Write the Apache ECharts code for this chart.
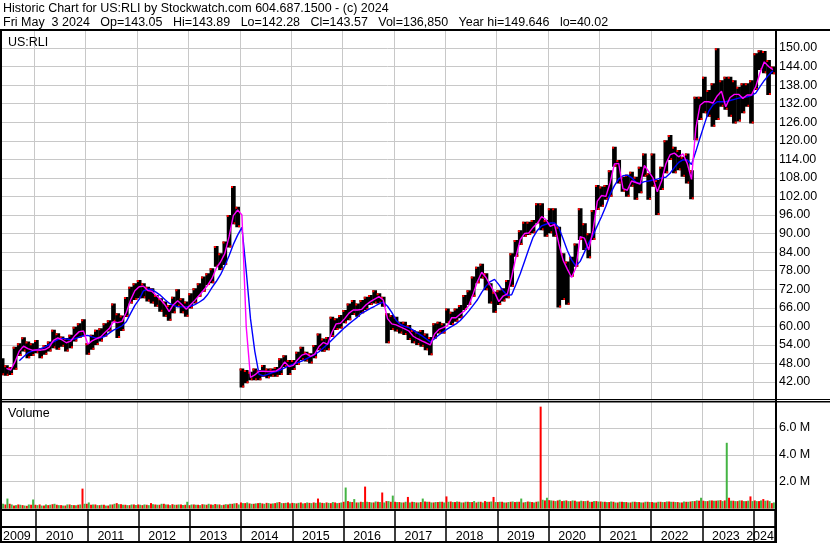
<!DOCTYPE html>
<html>
<head>
<meta charset="utf-8">
<script src="https://cdn.jsdelivr.net/npm/echarts@6/dist/echarts.min.js"></script>
<style>
  html, body { margin: 0; padding: 0; background: #fff; }
  #chart { width: 830px; height: 543px; }
</style>
</head>
<body>
<div id="chart"></div>
<script>
// monthly slots, May 2009 .. May 2024
const months = []
for (let y = 2009; y <= 2024; y++) {
  for (let m = 1; m <= 12; m++) {
    if ((y === 2009 && m < 5) || (y === 2024 && m > 5)) continue
    months.push(y + '-' + String(m).padStart(2, '0'))
  }
}

const yearLabelMonths = ['2009-08', '2010-06', '2011-06', '2012-06', '2013-06', '2014-06', '2015-06', '2016-06',
  '2017-06', '2018-06', '2019-06', '2020-06', '2021-06', '2022-06', '2023-06', '2024-02']

// monthly low / high
const priceLow = [
  44.2, 44.0, 44.3, 46.0, 50.4, 51.9, 49.7, 50.4,
  51.3, 49.7, 50.8, 51.9, 52.9, 52.4, 53.4, 51.9, 52.9, 55.1, 56.2, 56.7,
  50.8, 52.4, 54.0, 55.1, 56.7, 58.3, 61.5, 56.2, 58.5, 63.0, 67.4, 68.5,
  69.1, 69.1, 68.0, 67.4, 66.3, 64.7, 63.1, 61.8, 64.2, 66.3, 64.2, 63.1,
  65.8, 67.4, 69.6, 71.2, 73.4, 73.9, 79.3, 78.2, 79.8, 85.5, 93.0, 92.0,
  40.2, 41.6, 42.6, 42.6, 42.6, 43.7, 43.2, 43.7, 43.7, 44.3, 46.9, 44.3,
  45.9, 47.5, 49.1, 48.6, 48.0, 49.7, 52.3, 51.8, 52.3, 56.6, 58.8, 59.3,
  61.0, 62.0, 63.7, 63.1, 64.2, 65.3, 66.9, 67.4, 67.4, 66.3, 54.5, 58.8,
  58.3, 57.7, 57.2, 55.6, 54.5, 54.0, 53.4, 52.3, 50.7, 56.1, 57.7, 57.7,
  61.0, 60.4, 61.5, 62.6, 65.3, 66.9, 69.6, 73.9, 75.5, 71.7, 67.4, 64.4,
  66.9, 68.0, 69.1, 72.8, 82.5, 86.3, 89.0, 89.5, 90.1, 93.3, 91.1, 89.0,
  90.1, 89.0, 66.1, 68.5, 67.0, 76.1, 79.3, 87.9, 84.7, 82.0, 87.9, 97.6,
  98.7, 100.9, 101.9, 111.6, 106.2, 103.5, 101.9, 105.1, 100.9, 103.0, 108.4, 100.9,
  105.1, 96.0, 104.1, 109.5, 113.8, 109.5, 110.5, 108.4, 106.2, 101.1, 120.2, 126.7,
  128.9, 127.8, 124.5, 126.7, 131.0, 130.0, 127.8, 125.6, 126.2, 128.9, 131.0, 125.6,
  136.4, 142.9, 141.8, 134.8, 141.5
]
const priceHigh = [
  49.7, 47.4, 46.9, 53.4, 54.5, 56.5, 55.1, 54.5,
  55.6, 52.9, 54.0, 55.1, 58.9, 57.8, 56.7, 56.2, 57.3, 59.9, 61.0, 62.3,
  54.5, 57.3, 58.9, 59.4, 61.0, 62.0, 67.4, 64.2, 63.5, 69.5, 72.8, 73.9,
  75.0, 73.9, 72.8, 72.3, 70.1, 69.1, 68.0, 66.9, 69.6, 72.0, 69.1, 68.0,
  70.7, 72.3, 73.9, 76.1, 77.2, 78.8, 86.0, 83.6, 87.4, 96.0, 105.4, 98.7,
  46.4, 45.9, 45.3, 46.4, 45.9, 47.5, 46.4, 46.4, 46.9, 49.7, 50.7, 49.1,
  49.1, 51.8, 53.4, 51.8, 51.3, 54.0, 57.7, 56.1, 56.6, 63.1, 62.6, 63.7,
  65.3, 67.4, 68.5, 67.4, 68.5, 69.6, 70.1, 71.7, 70.7, 69.6, 64.2, 63.7,
  63.1, 61.5, 61.5, 60.4, 58.8, 58.3, 58.8, 57.7, 56.6, 61.0, 61.5, 61.0,
  65.8, 64.7, 65.8, 66.9, 70.1, 71.7, 76.1, 79.3, 80.2, 77.2, 73.9, 71.2,
  71.7, 72.3, 75.0, 83.6, 87.9, 91.1, 93.8, 93.8, 94.4, 99.8, 99.8, 94.4,
  98.2, 98.2, 92.2, 83.6, 81.0, 82.5, 86.8, 98.2, 93.3, 90.1, 97.6, 105.7,
  105.2, 105.7, 110.5, 118.1, 113.8, 108.4, 109.0, 110.0, 108.4, 111.6, 115.9, 109.5,
  115.9, 107.3, 111.6, 120.2, 121.9, 118.1, 117.0, 114.8, 115.9, 110.5, 134.2, 134.2,
  140.7, 136.4, 138.6, 149.9, 139.6, 140.7, 140.7, 139.6, 137.5, 138.6, 138.6, 139.6,
  148.3, 149.3, 149.0, 146.1, 144.0
]

// short average (magenta) and long average (blue)
const maShort = [
  null, 46.4, 45.9, 48.5, 52.0, 53.6, 52.8, 52.3,
  52.4, 52.3, 52.5, 53.3, 55.5, 56.3, 55.6, 54.7, 55.2, 57.0, 58.3, 58.5,
  54.2, 55.3, 56.0, 56.6, 58.0, 59.3, 61.5, 61.2, 61.6, 64.5, 68.5, 71.5,
  72.8, 73.0, 71.6, 71.3, 70.0, 68.7, 67.0, 64.8, 67.0, 68.3, 67.0, 65.5,
  67.0, 68.4, 70.0, 71.6, 73.3, 75.5, 78.8, 80.8, 83.5, 89.0, 95.8, 97.6,
  96.0, 60.0, 43.5, 44.3, 45.5, 45.5, 45.4, 45.4, 45.6, 46.5, 48.5, 47.0,
  47.4, 49.2, 50.7, 51.2, 50.3, 51.0, 53.5, 54.8, 54.2, 58.0, 60.8, 61.0,
  62.5, 64.3, 65.3, 65.3, 65.5, 67.0, 68.0, 68.8, 69.6, 68.5, 62.5, 60.8,
  60.5, 59.8, 59.2, 58.5, 56.8, 56.0, 55.3, 54.7, 54.0, 57.5, 59.0, 59.6,
  60.2, 62.8, 62.8, 64.0, 65.0, 66.8, 70.5, 74.5, 77.5, 75.8, 73.3, 71.0,
  68.0, 69.8, 70.5, 76.0, 82.5, 88.0, 90.0, 90.2, 92.0, 93.3, 95.5, 94.5,
  92.3, 93.0, 86.8, 81.4, 78.5, 75.8, 79.0, 89.0, 88.5, 84.7, 91.0, 100.5,
  102.3, 102.0, 106.5, 112.5, 112.7, 104.5, 104.0, 107.0, 106.5, 106.0, 112.0, 110.0,
  108.0, 103.5, 107.0, 112.5, 115.5, 116.0, 114.8, 115.8, 112.7, 107.5, 124.0, 131.5,
  132.6, 132.6, 132.2, 134.5, 136.0, 131.0, 134.0, 135.0, 135.0, 133.7, 134.8, 134.8,
  137.5, 142.0, 145.5, 144.0, 143.0
]
const maLong = [
  null, null, null, null, 48.9, 50.2, 51.4, 52.0,
  52.4, 52.8, 53.3, 54.2, 55.0, 55.7, 56.1, 55.9, 55.7, 56.0, 56.5, 57.0,
  57.1, 56.6, 56.2, 56.3, 56.8, 57.8, 58.8, 59.4, 60.2, 61.5, 64.2, 66.8,
  68.7, 71.5, 72.0, 71.9, 71.0, 70.0, 68.7, 67.5, 66.8, 66.3, 66.3, 66.3,
  66.5, 67.0, 67.8, 68.7, 70.3, 72.5, 74.5, 76.7, 79.6, 82.8, 86.5, 89.5,
  92.0, 78.0, 62.5, 52.0, 44.5, 44.0, 44.5, 45.0, 45.4, 45.9, 46.6, 47.3,
  47.8, 48.3, 48.8, 49.5, 50.2, 50.9, 51.8, 53.0, 54.2, 55.6, 57.0, 58.3,
  59.6, 60.8, 61.9, 63.0, 64.3, 65.0, 65.8, 66.5, 67.3, 67.8, 66.5, 64.5,
  62.0, 60.6, 60.0, 59.6, 58.8, 57.8, 57.0, 56.0, 55.0, 56.0, 57.2, 58.2,
  59.2, 60.0, 60.8, 61.9, 63.4, 65.0, 66.8, 68.6, 71.0, 73.0, 74.5, 75.2,
  73.5, 71.5, 70.0, 70.2, 73.5, 77.0, 81.0, 85.0, 88.8, 91.0, 92.5, 93.0,
  93.4, 93.4, 92.0, 88.3, 84.5, 81.5, 79.5, 81.0, 84.0, 87.0, 89.5, 92.5,
  95.5, 98.8, 102.7, 105.5, 107.7, 108.7, 108.9, 108.1, 106.6, 106.2, 106.8, 107.0,
  107.3, 107.6, 108.0, 108.2, 109.5, 111.3, 113.0, 113.8, 113.8, 112.3, 116.5, 121.0,
  125.3, 129.5, 131.6, 132.6, 132.6, 132.6, 133.0, 133.4, 133.8, 134.0, 134.2, 134.7,
  135.4, 137.5, 139.5, 141.2, 142.6
]

// volume (millions): biggest up-day and down-day of each month
const volUp = [
  0.35, 0.74, 0.30, 0.25, 0.28, 0.22, 0.30, 0.67,
  0.25, 0.22, 0.30, 0.28, 0.35, 0.25, 0.22, 0.30, 0.26, 0.24, 0.30, 0.35,
  0.45, 0.30, 0.25, 0.28, 0.22, 0.30, 0.35, 0.32, 0.28, 0.25, 0.30, 0.26,
  0.28, 0.30, 0.25, 0.32, 0.28, 0.35, 0.30, 0.25, 0.28, 0.30, 0.26, 0.50,
  0.30, 0.28, 0.25, 0.30, 0.35, 0.28, 0.30, 0.25, 0.32, 0.35, 0.38, 0.30,
  0.40, 0.45, 0.35, 0.38, 0.42, 0.35, 0.40, 0.38, 0.45, 0.40, 0.42, 0.38,
  0.40, 0.42, 0.38, 0.45, 0.40, 0.42, 0.45, 0.40, 0.42, 0.48, 0.40, 0.45,
  1.56, 0.50, 0.70, 0.45, 0.48, 0.50, 0.45, 0.52, 0.48, 0.45, 0.55, 0.96,
  0.48, 0.45, 0.50, 0.45, 0.48, 0.45, 0.74, 0.50, 0.45, 0.48, 0.50, 0.45,
  0.50, 0.48, 0.52, 0.45, 0.50, 0.48, 0.55, 0.50, 0.45, 0.50, 0.52, 0.48,
  0.50, 0.45, 0.48, 0.52, 0.50, 0.74, 0.48, 0.50, 0.45, 0.52, 0.65, 0.80,
  0.60, 0.55, 0.65, 0.58, 0.55, 0.60, 0.52, 0.58, 0.55, 0.50, 0.55, 0.52,
  0.50, 0.48, 0.52, 0.45, 0.50, 0.48, 0.45, 0.50, 0.48, 0.45, 0.50, 0.48,
  0.45, 0.50, 0.48, 0.52, 0.50, 0.48, 0.45, 0.52, 0.50, 0.55, 0.60, 0.80,
  0.55, 0.60, 0.58, 0.60, 0.55, 4.89, 0.58, 0.55, 0.60, 0.55, 0.58, 0.55,
  0.55, 0.60, 0.58, 0.55, 0.45
]
const volDown = [
  0.40, 0.30, 0.35, 0.22, 0.30, 0.25, 0.20, 0.28,
  0.28, 0.30, 0.22, 0.25, 0.32, 0.28, 0.25, 0.22, 0.30, 0.25, 0.28, 1.48,
  0.35, 0.28, 0.30, 0.25, 0.28, 0.22, 0.30, 0.40, 0.32, 0.28, 0.25, 0.30,
  0.30, 0.25, 0.28, 0.40, 0.30, 0.28, 0.35, 0.30, 0.32, 0.28, 0.30, 0.28,
  0.25, 0.30, 0.28, 0.32, 0.28, 0.30, 0.33, 0.30, 0.28, 0.30, 0.35, 0.40,
  0.45, 0.40, 0.38, 0.35, 0.40, 0.38, 0.42, 0.36, 0.40, 0.48, 0.40, 0.45,
  0.42, 0.38, 0.45, 0.40, 0.42, 0.45, 0.74, 0.42, 0.45, 0.40, 0.45, 0.42,
  0.50, 0.55, 0.48, 0.45, 0.50, 1.63, 0.48, 0.45, 0.50, 1.19, 0.55, 0.50,
  0.50, 0.48, 0.45, 0.86, 0.50, 0.45, 0.48, 0.52, 0.50, 0.45, 0.48, 0.50,
  0.90, 0.52, 0.48, 0.50, 0.45, 0.50, 0.48, 0.45, 0.50, 0.55, 0.50, 0.86,
  0.48, 0.50, 0.45, 0.50, 0.48, 0.50, 0.45, 0.52, 0.48, 0.50, 7.58, 0.60,
  0.62, 0.58, 0.60, 0.55, 0.60, 0.55, 0.58, 0.52, 0.55, 0.58, 0.50, 0.55,
  0.52, 0.50, 0.48, 0.50, 0.45, 0.50, 0.48, 0.45, 0.50, 0.48, 0.45, 0.50,
  0.48, 0.45, 0.50, 0.48, 0.52, 0.50, 0.48, 0.45, 0.50, 0.52, 0.55, 0.58,
  0.58, 0.55, 0.60, 0.58, 0.62, 0.60, 0.80, 0.58, 0.55, 0.60, 0.55, 0.90,
  0.60, 0.55, 0.70, 0.60, 0.40
]

const FONT = '"Liberation Sans", Arial, sans-serif'
const GRID = '#c8c8c8'
const isJan = (i) => months[i].endsWith('-01')

const chart = echarts.init(document.getElementById('chart'))

const hiddenX = (gi) => ({
  type: 'category', gridIndex: gi, data: months, boundaryGap: true,
  axisLine: { show: false }, axisTick: { show: false }, axisLabel: { show: false },
  splitLine: { show: true, interval: (i) => isJan(i), lineStyle: { color: GRID, width: 1 } }
})

const frame = [
  [0, 29, 830, 2], [0, 29, 2, 514], [775, 29, 2, 514],
  [0, 399, 830, 1], [0, 401, 830, 1.5],
  [0, 509, 777, 2], [0, 526, 777, 2], [0, 541, 777, 2]
]

chart.setOption({
  animation: false,
  backgroundColor: '#fff',
  title: [
    { text: 'Historic Chart for US:RLI by Stockwatch.com 604.687.1500 - (c) 2024', left: 3, top: 2 },
    { text: 'Fri May  3 2024   Op=143.05   Hi=143.89   Lo=142.28   Cl=143.57   Vol=136,850   Year hi=149.646   lo=40.02', left: 3, top: 16 },
    { text: 'US:RLI', left: 8, top: 36 },
    { text: 'Volume', left: 8, top: 407 }
  ].map((t) => ({
    ...t, padding: 0,
    textStyle: { fontFamily: FONT, fontSize: 12.5, fontWeight: 'normal', color: '#000' }
  })),
  grid: [
    { left: 0, top: 29.4, width: 775, height: 371.2 },
    { left: 0, top: 401, width: 775, height: 107.5 },
    { left: 0, top: 511, width: 775, height: 16 }
  ],
  xAxis: [
    hiddenX(0),
    hiddenX(1),
    {
      type: 'category', gridIndex: 2, data: months, boundaryGap: true,
      axisLine: { show: true, lineStyle: { color: '#000', width: 2 } },
      axisTick: { show: true, interval: (i) => isJan(i), length: 15, lineStyle: { color: '#000', width: 1.5 } },
      splitLine: { show: true, interval: (i) => isJan(i), lineStyle: { color: '#000', width: 1.5 } },
      axisLabel: {
        show: true, interval: (i) => yearLabelMonths.includes(months[i]),
        formatter: (v) => v.slice(0, 4), margin: 3,
        color: '#000', fontFamily: FONT, fontSize: 12.5
      }
    }
  ],
  yAxis: [
    {
      type: 'value', gridIndex: 0, position: 'right', min: 36, max: 156, interval: 6,
      axisLine: { show: false }, axisTick: { show: false },
      axisLabel: {
        showMinLabel: false, showMaxLabel: false, margin: 4,
        color: '#000', fontFamily: FONT, fontSize: 12.5, formatter: (v) => v.toFixed(2)
      },
      splitLine: { lineStyle: { color: GRID, width: 1 } }
    },
    {
      type: 'value', gridIndex: 1, position: 'right', min: 0, max: 8, interval: 2,
      axisLine: { show: false }, axisTick: { show: false },
      axisLabel: {
        showMinLabel: false, showMaxLabel: false, margin: 4,
        color: '#000', fontFamily: FONT, fontSize: 12.5, formatter: (v) => v.toFixed(1) + ' M'
      },
      splitLine: { lineStyle: { color: GRID, width: 1 } }
    },
    { type: 'value', gridIndex: 2, show: false }
  ],
  series: [
    {
      name: 'price', type: 'custom', xAxisIndex: 0, yAxisIndex: 0, clip: true,
      data: months.map((m, i) => [i, priceLow[i], priceHigh[i]]),
      renderItem: (params, api) => {
        const lo = api.coord([api.value(0), api.value(1)])
        const hi = api.coord([api.value(0), api.value(2)])
        const w = api.size([1, 0])[0] + 0.4
        return {
          type: 'group',
          children: [
            { type: 'rect', shape: { x: lo[0] - w / 2, y: hi[1], width: w, height: lo[1] - hi[1] }, style: { fill: '#000' } },
            { type: 'rect', shape: { x: hi[0] - w / 2, y: hi[1], width: 2, height: 2 }, style: { fill: '#ff0000' } },
            { type: 'rect', shape: { x: lo[0] + w / 2 - 2, y: lo[1] - 2, width: 2, height: 2 }, style: { fill: '#ff0000' } }
          ]
        }
      }
    },
    {
      name: 'long', type: 'line', xAxisIndex: 0, yAxisIndex: 0, data: maLong,
      symbol: 'none', lineStyle: { color: '#0000ff', width: 1.4 }
    },
    {
      name: 'short', type: 'line', xAxisIndex: 0, yAxisIndex: 0, data: maShort,
      symbol: 'none', lineStyle: { color: '#ff00ff', width: 1.4 }
    },
    {
      name: 'down', type: 'bar', xAxisIndex: 1, yAxisIndex: 1, data: volDown,
      barWidth: 2, barGap: '0%', itemStyle: { color: '#ff0000' }
    },
    {
      name: 'up', type: 'bar', xAxisIndex: 1, yAxisIndex: 1, data: volUp,
      barWidth: 2, barGap: '0%', itemStyle: { color: '#44b444' }
    }
  ],
  graphic: frame.map(([x, y, w, h]) => ({
    type: 'rect', shape: { x, y, width: w, height: h }, style: { fill: '#000' }, z: 100, silent: true
  }))
})
</script>
</body>
</html>
